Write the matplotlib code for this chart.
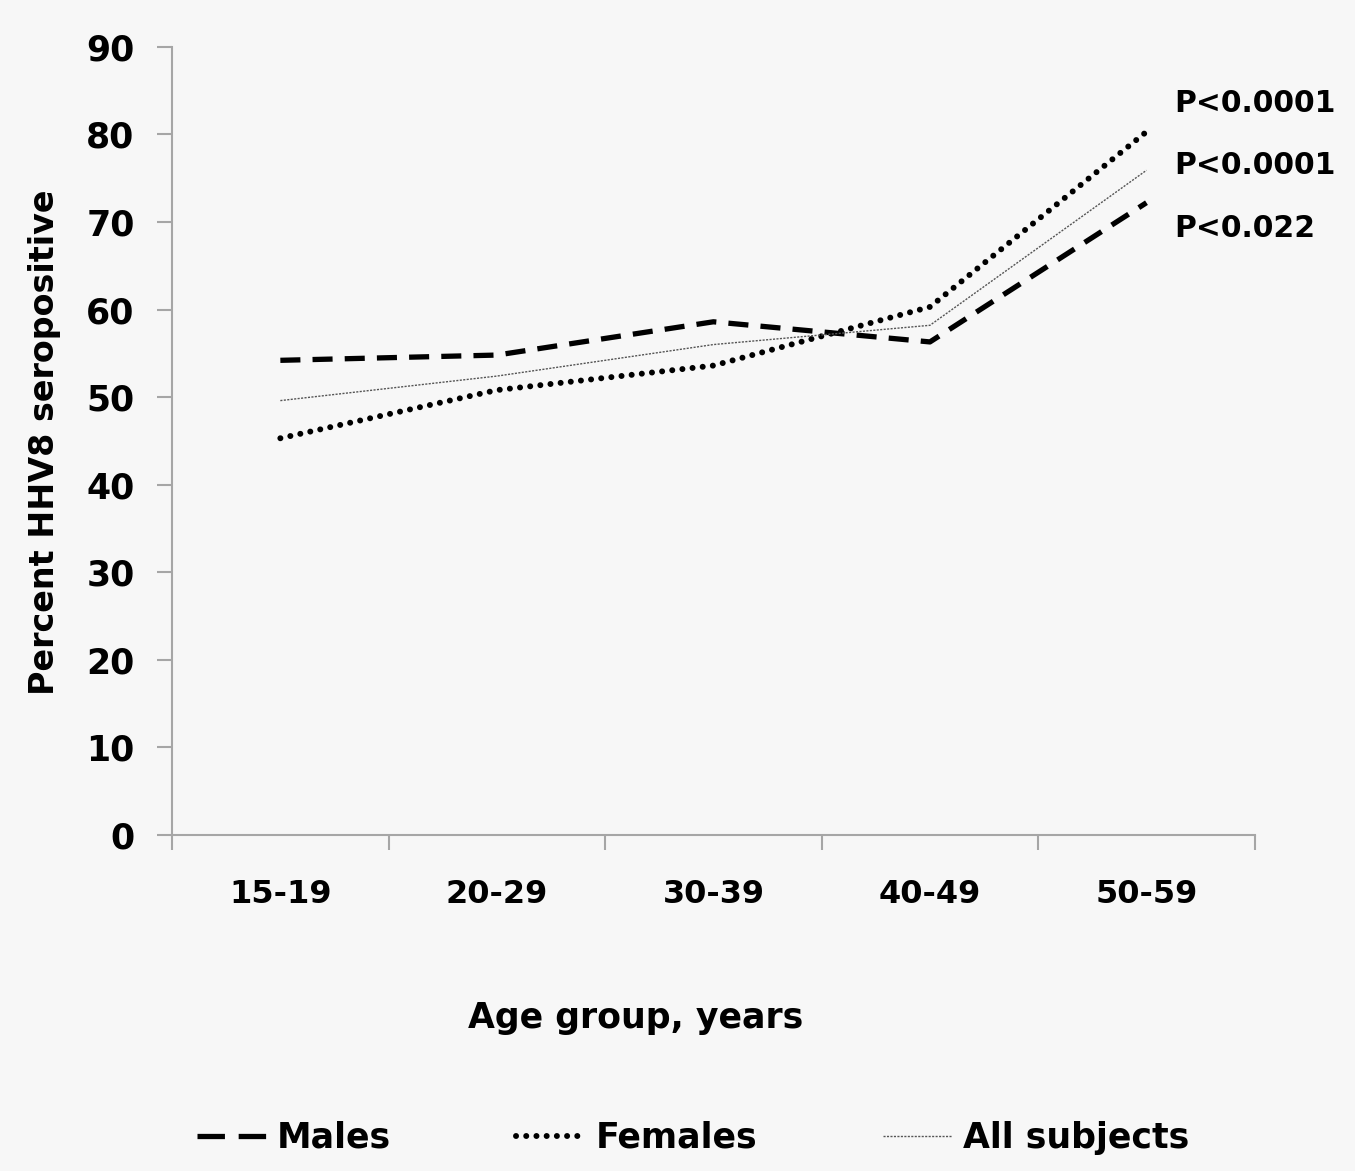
import matplotlib
matplotlib.use('Agg')
import matplotlib.pyplot as plt
from matplotlib.lines import Line2D
import numpy as np

age_groups = ['15-19', '20-29', '30-39', '40-49', '50-59']
males = [54.2, 54.8, 58.6, 56.3, 72.2]
females = [45.3, 50.8, 53.6, 60.3, 80.3]
all_subjects = [49.6, 52.4, 56.0, 58.2, 75.9]
p_labels = ['P<0.0001', 'P<0.0001', 'P<0.022']
p_y = [83.5, 76.4, 69.2]

bg = '#f7f7f7'
axis_col = '#a6a6a6'
plt.rcParams['font.family'] = ['DejaVu Sans']
plt.rcParams['font.weight'] = 'bold'

fig = plt.figure(figsize=(13.55, 11.71), dpi=100, facecolor=bg)
ax = fig.add_axes([0.127, 0.287, 0.799, 0.673], facecolor=bg)

x = np.arange(len(age_groups))
ax.plot(x, males, color='black', lw=3.8, dashes=(3.8, 2.3))
l2, = ax.plot(x, females, color='black', lw=4.3, dashes=(0.01, 1.7),
              dash_capstyle='round', label='Females')
l3, = ax.plot(x, all_subjects, color='#555555', lw=1.0, dashes=(1.5, 1),
              label='All subjects')
# legend proxy so the handle shows two whole dashes
l1 = Line2D([], [], color='black', lw=3.8, dashes=(5.2, 2.6), label='Males')

ax.set_xlim(-0.5, len(age_groups) - 0.5)
ax.set_ylim(0, 90)
ax.set_yticks(np.arange(0, 91, 10))
ax.set_xticks(x)
ax.set_xticklabels(age_groups)
ax.set_xticks(np.arange(-0.5, len(age_groups), 1), minor=True)
ax.tick_params(axis='x', which='major', length=0, pad=32, labelsize=23)
ax.tick_params(axis='x', which='minor', length=11, width=1.5, color=axis_col)
ax.tick_params(axis='y', length=11, width=1.5, color=axis_col, pad=16, labelsize=25)
for lab in ax.get_xticklabels() + ax.get_yticklabels():
    lab.set_fontweight('bold')

for s in ['top', 'right']:
    ax.spines[s].set_visible(False)
for s in ['left', 'bottom']:
    ax.spines[s].set_color(axis_col)
    ax.spines[s].set_linewidth(1.5)

for txt, yv in zip(p_labels, p_y):
    ax.text(4.13, yv, txt, fontsize=21.5, fontweight='bold', va='center', ha='left')

fig.text(45 / 1355, 1 - 442 / 1171, 'Percent HHV8 seropositive', rotation=90,
         fontsize=24, fontweight='bold', ha='center', va='center')
fig.text(636 / 1355, 1 - 1018 / 1171, 'Age group, years',
         fontsize=25, fontweight='bold', ha='center', va='center')

fig.legend(handles=[l1, l2, l3], loc='center', bbox_to_anchor=(693 / 1355, 1 - 1138 / 1171),
           ncol=3, frameon=False, handlelength=2.0, handletextpad=0.3,
           columnspacing=3.6, prop={'weight': 'bold', 'size': 25})

fig.savefig('out.png', dpi=100, facecolor=bg)
